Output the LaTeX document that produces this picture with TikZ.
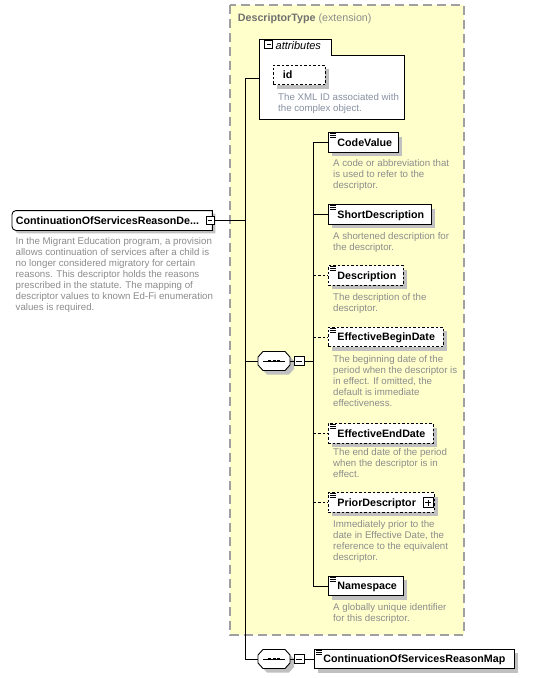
\documentclass[tikz,border=0pt]{standalone}
\usepackage{fontspec}
\setmainfont{Liberation Sans}
\usetikzlibrary{shadows,backgrounds,calc}

\definecolor{extfill}{RGB}{255,255,204}
\definecolor{extborder}{RGB}{160,160,160}
\definecolor{desctext}{RGB}{140,140,140}
\definecolor{iddesctext}{RGB}{135,145,162}
\definecolor{shadowgray}{RGB}{192,192,192}
\definecolor{headtext}{RGB}{112,112,112}

\newcommand{\elemfont}{\fontsize{10.7}{12}\selectfont\bfseries}
\newcommand{\descfont}{\fontsize{9.7}{11}\selectfont}
\newcommand{\ebox}[2]{\makebox[#1][l]{\hspace{9pt}#2}}
% three short strokes marking a simple-content element
\newcommand{\docmark}[1]{%
  \foreach \dy in {1.2,3.2,5.2}{\draw[line width=0.6pt] ([xshift=2pt,yshift=-\dy pt]#1.north west) -- ++(5.5,0);}}

\tikzset{
  x=1pt, y=1pt,
  wire/.style={line width=0.9pt, draw=black},
  optwire/.style={wire, dash pattern=on 2.5pt off 2pt},
  boxshadow/.style={drop shadow={shadow xshift=4pt, shadow yshift=-4pt, fill=shadowgray, opacity=1}},
  elembox/.style={draw, line width=0.9pt, fill=white, anchor=west, inner sep=0pt,
    minimum height=19.5pt, text height=7.7pt, text depth=0pt, font=\elemfont, boxshadow},
  optbox/.style={elembox, dash pattern=on 2.5pt off 2pt},
  desc/.style={anchor=north west, align=left, inner sep=0pt, font=\descfont, text=desctext,
    execute at begin node={\rule{0pt}{7.5pt}}},
  togglebox/.style={draw, line width=0.8pt, fill=white, inner sep=0pt, minimum width=8pt, minimum height=8pt},
  minusbox/.style={togglebox, path picture={\draw[line width=0.8pt]
    ([xshift=2pt]path picture bounding box.west) -- ([xshift=-2pt]path picture bounding box.east);}},
  plusbox/.style={togglebox, path picture={\draw[line width=0.8pt]
    ([xshift=2pt]path picture bounding box.west) -- ([xshift=-2pt]path picture bounding box.east)
    ([yshift=-2pt]path picture bounding box.north) -- ([yshift=2pt]path picture bounding box.south);}},
  seqicon/.pic={
    \fill[shadowgray, shift={(4,-4)}] (-16,-4) -- (-16,4) -- (-11,9.5) -- (11,9.5) -- (16,4) -- (16,-4) -- (11,-9.5) -- (-11,-9.5) -- cycle;
    \draw[wire, fill=white] (-16,-4) -- (-16,4) -- (-11,9.5) -- (11,9.5) -- (16,4) -- (16,-4) -- (11,-9.5) -- (-11,-9.5) -- cycle;
    \draw[line width=0.8pt] (-11,0) -- (11,0);
    \foreach \dx in {-4.5,0,4.5}{\fill ($(\dx,0)+(-1.5,-1.2)$) rectangle ++(3,2.4);}
    \draw[wire] (16,0) -- (20,0);
    \node[minusbox, minimum width=10pt, minimum height=8.5pt] (-tog) at (25,0) {};
    \coordinate (-in) at (-16,0);
  }
}

\begin{document}
\begin{tikzpicture}
\begin{scope}[on background layer]
  \fill[white] (0,0) rectangle (542,-678);
\end{scope}
\useasboundingbox (0,0) rectangle (542,-678);

% extension area of the base type
\draw[fill=extfill, draw=extborder, line width=1.3pt, dash pattern=on 9pt off 5pt] (230,-5) rectangle (464,-635);
\node[anchor=base west, inner sep=0pt, font=\fontsize{10.7}{12}\selectfont] (head) at (237.7,-21)
  {\textcolor{headtext}{\bfseries DescriptorType} \textcolor{desctext}{(extension)}};

% attributes group
\draw[wire, fill=white] (259,-39) -- (331,-39) -- (331,-55) -- (404,-55) -- (404,-119) -- (259,-119) -- cycle;
\node[minusbox] (attrtog) at (268.5,-44.5) {};
\node[anchor=base west, inner sep=0pt, font=\fontsize{11}{12}\selectfont\itshape] (attrlabel) at (275.5,-49) {attributes};
\coordinate (attrin) at (259,-78);
\node[optbox, minimum width=52pt, shadow xshift=3pt] (idattr) at (273,-75) {\makebox[52pt][l]{\hspace{9.5pt}id}};
\node[desc, text=iddesctext] (iddesc) at (278,-93.5) {The XML ID associated with\\the complex object.};

% global element
\node[inner sep=0pt, minimum height=19.5pt, text height=7.7pt, text depth=0pt, font=\elemfont, anchor=west]
  (mainel) at (12,-220.5) {\makebox[200pt][l]{\hspace{3.7pt}ContinuationOfServicesReasonDe...}};
\begin{scope}[on background layer]
  \fill[shadowgray] ([shift={(3,-3)}]mainel.north east) -- ([shift={(7,-3)}]mainel.north west)
    arc[start angle=90, end angle=180, radius=4pt] -- ([shift={(3,1)}]mainel.south west)
    arc[start angle=180, end angle=270, radius=4pt] -- ([shift={(3,-3)}]mainel.south east) -- cycle;
  \draw[wire, fill=white] (mainel.north east) -- ([xshift=4pt]mainel.north west)
    arc[start angle=90, end angle=180, radius=4pt] -- ([yshift=4pt]mainel.south west)
    arc[start angle=180, end angle=270, radius=4pt] -- (mainel.south east) -- cycle;
\end{scope}
\node[minusbox] (mainel-tog) at ([xshift=-2pt]mainel.east) {};
\node[desc] (maindesc) at (15.5,-237.5) {In the Migrant Education program, a provision\\
  allows continuation of services after a child is\\
  no longer considered migratory for certain\\
  reasons. This descriptor holds the reasons\\
  prescribed in the statute. The mapping of\\
  descriptor values to known Ed-Fi enumeration\\
  values is required.};

% sequence compositors
\pic (sqa) at (274,-361) {seqicon};
\pic (sqb) at (274,-659) {seqicon};

% child elements
\node[elembox] (cv) at (328,-142.5) {\ebox{70pt}{CodeValue}};
\node[elembox] (sd) at (328,-214.5) {\ebox{103pt}{ShortDescription}};
\node[optbox] (de) at (328,-275.5) {\ebox{75pt}{Description}};
\node[optbox] (ebd) at (328,-337) {\ebox{115pt}{EffectiveBeginDate}};
\node[optbox] (eed) at (328,-433.5) {\ebox{105pt}{EffectiveEndDate}};
\node[optbox] (pd) at (328,-502.5) {\ebox{106pt}{PriorDescriptor}};
\node[elembox] (ns) at (328,-586) {\ebox{75pt}{Namespace}};
\node[elembox] (map) at (314,-659) {\ebox{200pt}{ContinuationOfServicesReasonMap}};
\node[plusbox, minimum width=10pt, minimum height=10pt] (pd-tog) at ([xshift=-7pt]pd.east) {};
\foreach \n in {cv,sd,de,ebd,eed,pd,ns,map}{\docmark{\n}}

\node[desc] (cvdesc) at (333,-159.7) {A code or abbreviation that\\is used to refer to the\\descriptor.};
\node[desc] (sddesc) at (333,-232.5) {A shortened description for\\the descriptor.};
\node[desc] (dedesc) at (333,-292.8) {The description of the\\descriptor.};
\node[desc] (ebddesc) at (333,-355) {The beginning date of the\\period when the descriptor is\\in effect. If omitted, the\\default is immediate\\effectiveness.};
\node[desc] (eeddesc) at (333,-448.5) {The end date of the period\\when the descriptor is in\\effect.};
\node[desc] (pddesc) at (333,-520) {Immediately prior to the\\date in Effective Date, the\\reference to the equivalent\\descriptor.};
\node[desc] (nsdesc) at (333,-603.5) {A globally unique identifier\\for this descriptor.};

% connectors
\coordinate (bustop) at (245,-78);
\coordinate (cbus) at (313.5,-361);
\draw[wire] (attrin) -- (bustop) |- (sqb-in);
\draw[wire] (mainel-tog.east) -- (mainel-tog.east -| bustop);
\draw[wire] (sqa-in -| bustop) -- (sqa-in);
\draw[wire] (sqa-tog.east) -- (cbus);
\draw[wire] (cv.west) -- (cbus |- cv.west) -- (cbus |- ns.west) -- (ns.west);
\draw[wire] (cbus |- sd.west) -- (sd.west);
\foreach \n in {de,ebd,eed,pd}{\draw[optwire] (cbus |- \n.west) -- (\n.west);}
\draw[wire] (sqb-tog.east) -- (map.west);
\end{tikzpicture}
\end{document}
